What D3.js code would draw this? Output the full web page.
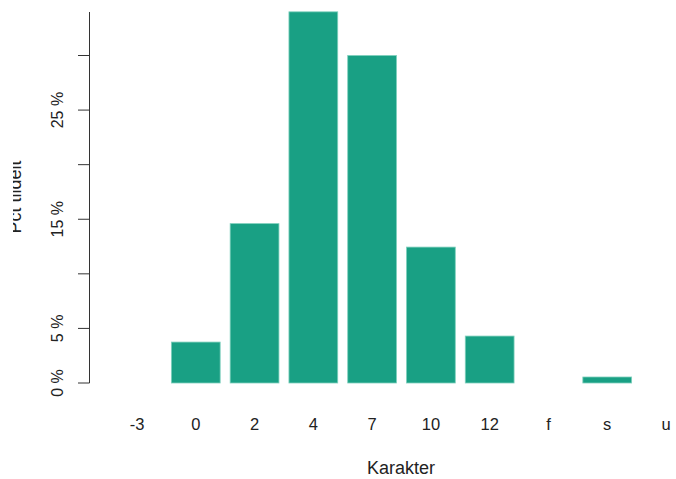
<!DOCTYPE html>
<html><head><meta charset="utf-8">
<script src="https://cdn.jsdelivr.net/npm/d3@7"></script>
<style>body{margin:0;background:#fff}svg{display:block}text{font-family:"Liberation Sans",Arial,sans-serif}</style>
</head><body>
<script>
const categories = ["-3","0","2","4","7","10","12","f","s","u"];
const values = [0, 3.75, 14.6, 34.0, 30.0, 12.45, 4.3, 0, 0.55, 0];
const yTicks = [0,5,10,15,20,25,30];
const yTickLabels = ["0 %","5 %","","15 %","","25 %",""];

const W=676,H=479;
const svg=d3.select("body").append("svg").attr("width",W).attr("height",H);
svg.append("defs").append("clipPath").attr("id","lc").append("rect").attr("x",13).attr("y",0).attr("width",40).attr("height",H);
const x=d3.scaleBand().domain(categories).range([107.6,695.4]).paddingInner(0.17).paddingOuter(0.085);
const y=d3.scaleLinear().domain([0,30]).range([383,55.5]);

svg.selectAll("rect.bar").data(values).join("rect").attr("class","bar")
  .attr("x",(d,i)=>x(categories[i])).attr("width",x.bandwidth())
  .attr("y",d=>y(d)).attr("height",d=>y(0)-y(d))
  .attr("fill",d=>d>0?"#19a084":"none").attr("stroke",d=>d>0?"#7fd0bd":"none").attr("stroke-width",0.8);

// y axis
const ya=svg.append("g");
ya.append("line").attr("x1",89.5).attr("x2",89.5).attr("y1",12).attr("y2",y(0)).attr("stroke","#333").attr("stroke-width",1);
ya.selectAll("line.t").data(yTicks).join("line").attr("class","t")
  .attr("x1",78).attr("x2",89.5).attr("y1",d=>y(d)).attr("y2",d=>y(d)).attr("stroke","#333");
ya.selectAll("text").data(yTicks).join("text")
  .attr("transform",d=>`translate(62.5,${y(d)}) rotate(-90)`)
  .attr("text-anchor","middle").attr("font-size",16).attr("fill","#222")
  .text((d,i)=>yTickLabels[i]);

// x labels
svg.selectAll("text.xl").data(categories).join("text").attr("class","xl")
  .attr("x",d=>x(d)+x.bandwidth()/2).attr("y",430)
  .attr("text-anchor","middle").attr("font-size",16.5).attr("fill","#222").text(d=>d);

svg.append("text").attr("x",401).attr("y",474).attr("text-anchor","middle").attr("font-size",18).attr("fill","#222").text("Karakter");
svg.append("g").attr("clip-path","url(#lc)").append("text").attr("transform","translate(21,197) rotate(-90)").attr("text-anchor","middle").attr("font-size",18).attr("fill","#222").text("Pct tildelt");
</script>
</body></html>
